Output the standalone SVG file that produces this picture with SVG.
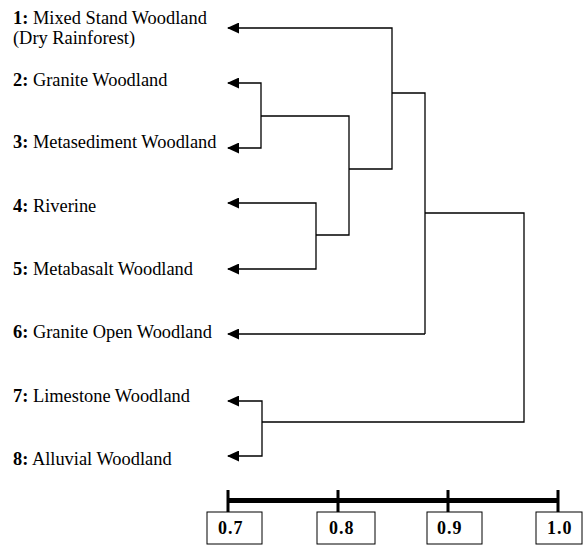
<svg xmlns="http://www.w3.org/2000/svg" width="583" height="545" viewBox="0 0 583 545">
<style>
text{font-family:"Liberation Serif","Times New Roman",serif;fill:#000}
.lbl{font-size:18.4px}
.num{font-weight:bold}
.c{fill:none;stroke:#000;stroke-width:1.3}
.bar{stroke:#000;fill:none}
.box{fill:#fff;stroke:#000;stroke-width:1}
.sv{font-size:18px;font-weight:bold;letter-spacing:1px}
</style>
<defs>
<marker id="ah" markerWidth="12" markerHeight="11" refX="11" refY="5.5" orient="auto-start-reverse" markerUnits="userSpaceOnUse">
<path d="M12,5.5 L0,0 L0,11 Z" fill="#000"/>
</marker>
</defs>
<g id="n1"><text class="lbl" x="13" y="24"><tspan class="num">1:</tspan> Mixed Stand Woodland</text><text class="lbl" x="13" y="44">(Dry Rainforest)</text></g>
<g id="n2"><text class="lbl" x="13" y="86"><tspan class="num">2:</tspan> Granite Woodland</text></g>
<g id="n3"><text class="lbl" x="13" y="148"><tspan class="num">3:</tspan> Metasediment Woodland</text></g>
<g id="n4"><text class="lbl" x="13" y="212"><tspan class="num">4:</tspan> Riverine</text></g>
<g id="n5"><text class="lbl" x="13" y="275"><tspan class="num">5:</tspan> Metabasalt Woodland</text></g>
<g id="n6"><text class="lbl" x="13" y="338"><tspan class="num">6:</tspan> Granite Open Woodland</text></g>
<g id="n7"><text class="lbl" x="13" y="402"><tspan class="num">7:</tspan> Limestone Woodland</text></g>
<g id="n8"><text class="lbl" x="13" y="465"><tspan class="num">8:</tspan> Alluvial Woodland</text></g>
<g id="connectors">
<path class="c" marker-start="url(#ah)" d="M228,28 H392 V169 H349"/>
<path class="c" marker-start="url(#ah)" d="M228,83 H261 V148 H228" marker-end="url(#ah)"/>
<path class="c" d="M261,116 H349 V235 H316"/>
<path class="c" marker-start="url(#ah)" d="M228,203 H316 V269 H228" marker-end="url(#ah)"/>
<path class="c" d="M392,93 H425 V334"/>
<path class="c" marker-end="url(#ah)" d="M425,334 H228"/>
<path class="c" d="M425,213 H524 V422 H262"/>
<path class="c" marker-start="url(#ah)" d="M228,401 H262 V456 H228" marker-end="url(#ah)"/>
</g>
<g id="scale">
<path class="bar" stroke-width="5" d="M228,500.5 H558"/>
<path class="bar" stroke-width="3" d="M228,490 V512 M338,490 V512 M448,490 V512 M558,490 V512"/>
<rect class="box" x="207" y="512" width="55" height="32"/>
<rect class="box" x="317" y="512" width="58" height="32"/>
<rect class="box" x="427" y="512" width="55" height="32"/>
<rect class="box" x="536" y="512" width="46" height="32"/>
<text class="sv" x="218" y="534">0.7</text>
<text class="sv" x="329" y="534">0.8</text>
<text class="sv" x="437" y="534">0.9</text>
<text class="sv" x="547" y="534">1.0</text>
</g>
</svg>
